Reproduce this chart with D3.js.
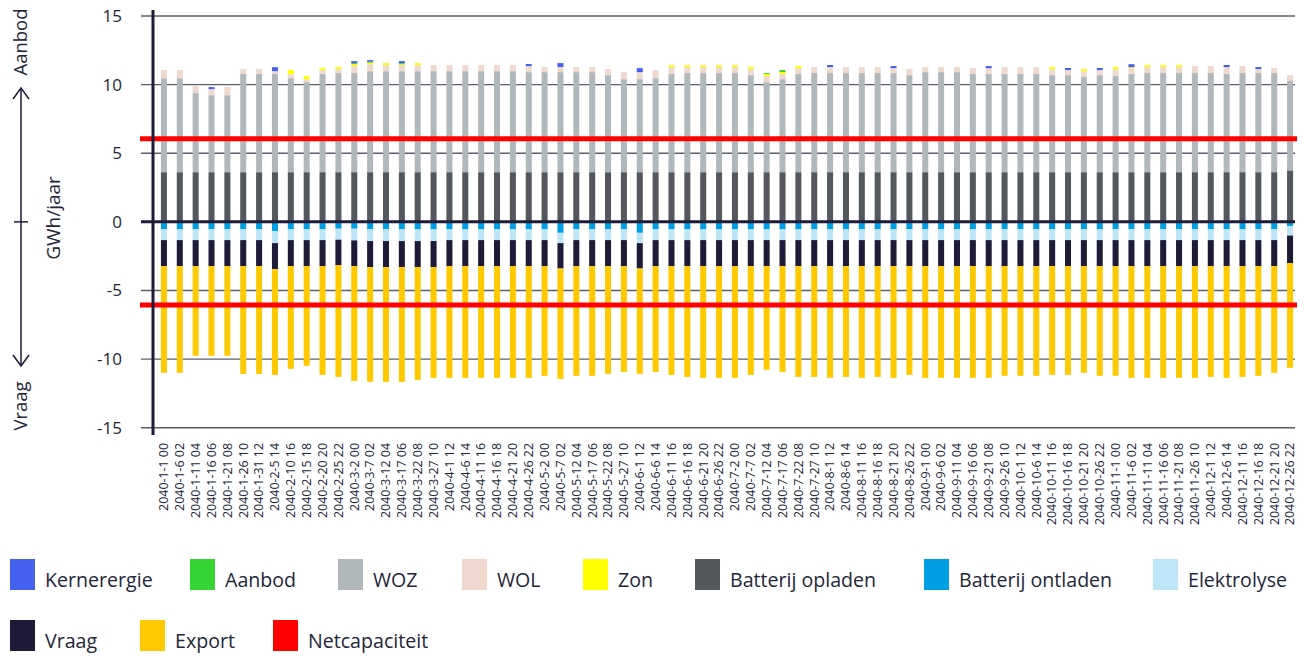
<!DOCTYPE html>
<html><head><meta charset="utf-8">
<script src="https://cdn.jsdelivr.net/npm/d3@7"></script>
<style>body{margin:0;background:#fff}svg{display:block}text{font-family:"Open Sans",sans-serif}</style>
</head><body><svg id="c" width="1304" height="656"></svg>
<script>
const categories = ["2040-1-1 00","2040-1-6 02","2040-1-11 04","2040-1-16 06","2040-1-21 08","2040-1-26 10","2040-1-31 12","2040-2-5 14","2040-2-10 16","2040-2-15 18","2040-2-20 20","2040-2-25 22","2040-3-2 00","2040-3-7 02","2040-3-12 04","2040-3-17 06","2040-3-22 08","2040-3-27 10","2040-4-1 12","2040-4-6 14","2040-4-11 16","2040-4-16 18","2040-4-21 20","2040-4-26 22","2040-5-2 00","2040-5-7 02","2040-5-12 04","2040-5-17 06","2040-5-22 08","2040-5-27 10","2040-6-1 12","2040-6-6 14","2040-6-11 16","2040-6-16 18","2040-6-21 20","2040-6-26 22","2040-7-2 00","2040-7-7 02","2040-7-12 04","2040-7-17 06","2040-7-22 08","2040-7-27 10","2040-8-1 12","2040-8-6 14","2040-8-11 16","2040-8-16 18","2040-8-21 20","2040-8-26 22","2040-9-1 00","2040-9-6 02","2040-9-11 04","2040-9-16 06","2040-9-21 08","2040-9-26 10","2040-10-1 12","2040-10-6 14","2040-10-11 16","2040-10-16 18","2040-10-21 20","2040-10-26 22","2040-11-1 00","2040-11-6 02","2040-11-11 04","2040-11-16 06","2040-11-21 08","2040-11-26 10","2040-12-1 12","2040-12-6 14","2040-12-11 16","2040-12-16 18","2040-12-21 20","2040-12-26 22"];

// supply side (GWh/jaar), stacked upwards
const batterijOpladen = [3.62,3.62,3.62,3.62,3.62,3.62,3.62,3.62,3.62,3.62,3.62,3.62,3.62,3.62,3.62,3.62,3.62,3.62,3.62,3.62,3.62,3.62,3.62,3.62,3.62,3.62,3.62,3.62,3.62,3.62,3.62,3.62,3.62,3.62,3.62,3.62,3.62,3.62,3.62,3.62,3.62,3.62,3.62,3.62,3.62,3.62,3.62,3.62,3.62,3.62,3.62,3.62,3.62,3.62,3.62,3.62,3.62,3.62,3.62,3.62,3.62,3.62,3.62,3.62,3.62,3.62,3.62,3.62,3.62,3.62,3.62,3.75];
const woz = [6.85,6.85,5.76,5.61,5.61,7.15,7.15,7.15,6.85,6.56,7.15,7.22,7.22,7.36,7.36,7.36,7.36,7.36,7.36,7.36,7.36,7.36,7.36,7.29,7.29,7.29,7.29,7.29,7.07,6.78,6.78,6.85,7.15,7.22,7.22,7.22,7.22,7.07,6.56,6.78,7.15,7.22,7.22,7.22,7.22,7.22,7.22,7.07,7.29,7.29,7.29,7.15,7.15,7.15,7.15,7.15,7.07,7.07,6.93,7.07,7.00,7.15,7.22,7.22,7.22,7.22,7.22,7.15,7.22,7.22,7.22,6.51];
const wol = [0.59,0.59,0.51,0.44,0.59,0.36,0.36,0.21,0.30,0.22,0.29,0.29,0.51,0.51,0.44,0.44,0.44,0.44,0.44,0.44,0.44,0.44,0.44,0.44,0.37,0.37,0.37,0.37,0.44,0.51,0.51,0.59,0.51,0.44,0.44,0.44,0.44,0.44,0.44,0.37,0.43,0.44,0.44,0.44,0.44,0.44,0.36,0.44,0.37,0.37,0.37,0.43,0.43,0.51,0.51,0.51,0.44,0.37,0.43,0.37,0.51,0.43,0.44,0.44,0.44,0.51,0.51,0.51,0.51,0.29,0.36,0.43];
const zon = [0,0,0,0,0,0,0,0,0.29,0.22,0.14,0.15,0.14,0.12,0.15,0.07,0.15,0,0,0,0,0,0,0,0,0,0,0,0,0,0,0,0.14,0.14,0.14,0.14,0.14,0.15,0.15,0.15,0.15,0,0,0,0,0,0,0,0,0,0,0,0,0,0,0,0.15,0,0.15,0,0.15,0.07,0.14,0.14,0.14,0,0,0,0,0,0,0];
const aanbod = [0,0,0,0,0,0,0,0,0,0,0,0,0.07,0.05,0,0.07,0,0,0,0,0,0,0,0,0,0,0,0,0,0,0,0,0,0,0,0,0,0,0.07,0.14,0,0,0,0,0,0,0,0,0,0,0,0,0,0,0,0,0,0,0,0,0,0,0,0,0,0,0,0,0,0,0,0];
const kernenergie = [0,0,0,0.15,0,0,0,0.29,0,0,0,0,0.15,0.12,0,0.15,0,0,0,0,0,0,0,0.15,0,0.29,0,0,0,0,0.29,0,0,0,0,0,0,0,0,0,0,0,0.15,0,0,0,0.15,0,0,0,0,0,0.15,0,0,0,0,0.15,0,0.15,0,0.22,0,0,0,0,0,0.15,0,0.15,0,0];

// demand side (GWh/jaar, magnitudes), stacked downwards
const batterijOntladen = [0.55,0.55,0.55,0.55,0.55,0.55,0.55,0.68,0.55,0.55,0.55,0.50,0.50,0.55,0.55,0.55,0.55,0.55,0.55,0.55,0.55,0.55,0.55,0.55,0.55,0.80,0.55,0.55,0.55,0.55,0.80,0.55,0.55,0.55,0.55,0.55,0.55,0.55,0.55,0.55,0.55,0.55,0.55,0.55,0.55,0.55,0.55,0.55,0.55,0.55,0.55,0.55,0.55,0.55,0.55,0.55,0.55,0.55,0.55,0.55,0.55,0.55,0.55,0.55,0.55,0.55,0.55,0.55,0.55,0.55,0.55,0.30];
const elektrolyse = [0.78,0.78,0.78,0.78,0.78,0.78,0.78,0.87,0.78,0.78,0.78,0.80,0.85,0.85,0.85,0.85,0.85,0.85,0.78,0.78,0.78,0.78,0.78,0.78,0.78,0.75,0.78,0.78,0.78,0.78,0.75,0.78,0.78,0.78,0.78,0.78,0.78,0.78,0.78,0.78,0.78,0.78,0.78,0.78,0.78,0.78,0.78,0.78,0.78,0.78,0.78,0.78,0.78,0.78,0.78,0.78,0.78,0.78,0.78,0.78,0.78,0.78,0.78,0.78,0.78,0.78,0.78,0.78,0.78,0.78,0.78,0.70];
const vraag = [1.90,1.90,1.90,1.90,1.90,1.90,1.90,1.90,1.90,1.90,1.90,1.86,1.88,1.90,1.90,1.90,1.90,1.90,1.90,1.90,1.90,1.90,1.90,1.90,1.90,1.85,1.90,1.90,1.90,1.90,1.85,1.90,1.90,1.90,1.90,1.90,1.90,1.90,1.90,1.90,1.90,1.90,1.90,1.90,1.90,1.90,1.90,1.90,1.90,1.90,1.90,1.90,1.90,1.90,1.90,1.90,1.90,1.90,1.90,1.90,1.90,1.90,1.90,1.90,1.90,1.90,1.90,1.90,1.90,1.90,1.90,2.00];
const exportV = [7.77,7.77,6.53,6.53,6.53,7.85,7.85,7.70,7.48,7.26,7.92,8.14,8.36,8.36,8.36,8.36,8.21,8.07,8.14,8.14,8.14,8.14,8.14,8.14,7.99,8.04,7.99,7.99,7.85,7.70,7.68,7.70,7.92,8.07,8.14,8.14,8.14,7.92,7.55,7.70,8.07,8.07,8.14,8.07,8.14,8.07,8.14,7.92,8.14,8.14,8.14,8.14,8.14,7.99,7.99,7.99,7.92,7.92,7.77,7.99,7.99,8.14,8.14,8.14,8.14,8.14,8.07,8.14,8.07,7.99,7.77,7.64];

const netcapaciteit = 6.05;
const yTicks = [-15,-10,-5,0,5,10,15];

const supplySeries = [
  {name:"Batterij opladen", color:"#54575b", values:batterijOpladen},
  {name:"WOZ", color:"#b1b8bc", values:woz},
  {name:"WOL", color:"#efd9cf", values:wol},
  {name:"Zon", color:"#ffff00", values:zon},
  {name:"Aanbod", color:"#33d433", values:aanbod},
  {name:"Kernerergie", color:"#4361ee", values:kernenergie}
];
const demandSeries = [
  {name:"Batterij ontladen", color:"#009fe3", values:batterijOntladen},
  {name:"Elektrolyse", color:"#bde5f8", values:elektrolyse},
  {name:"Vraag", color:"#1e1b38", values:vraag},
  {name:"Export", color:"#ffc900", values:exportV}
];
const legendItems = [
  {name:"Kernerergie", color:"#4361ee"},{name:"Aanbod", color:"#33d433"},{name:"WOZ", color:"#b1b8bc"},
  {name:"WOL", color:"#efd9cf"},{name:"Zon", color:"#ffff00"},{name:"Batterij opladen", color:"#54575b"},
  {name:"Batterij ontladen", color:"#009fe3"},{name:"Elektrolyse", color:"#bde5f8"},
  {name:"Vraag", color:"#1e1b38"},{name:"Export", color:"#ffc900"},{name:"Netcapaciteit", color:"#ff0000"}
];
const legendX = [10,190,338,462,583,695,924,1153,10,140,273];
const legendRow = [0,0,0,0,0,0,0,0,1,1,1];

const svg = d3.select("#c");
const ink = "#1e1b38", txt = "#232639";
const x = d3.scaleBand().domain(categories).range([156,1298]).paddingInner(0.62).paddingOuter(0.31);
const y = d3.scaleLinear().domain([-15,15]).range([427.7,16]);
const gx0 = 141, gx1 = 1295;

// gridlines
svg.append("g").selectAll("line").data(yTicks.filter(d=>d!==0)).join("line")
  .attr("x1",gx0).attr("x2",gx1).attr("y1",d=>y(d)).attr("y2",d=>y(d))
  .attr("stroke","#5c5e6b").attr("stroke-width",1.4);

// bars
function stackRects(series, sign){
  const g = svg.append("g");
  categories.forEach((c,i)=>{
    let acc = 0;
    series.forEach(s=>{
      const v = s.values[i];
      if(!v) return;
      const a = acc, b = acc + v; acc = b;
      const y1 = y(sign*a), y2 = y(sign*b);
      g.append("rect").attr("x",x(c)).attr("width",x.bandwidth())
        .attr("y",Math.min(y1,y2)).attr("height",Math.abs(y2-y1)).attr("fill",s.color);
    });
  });
}
stackRects(supplySeries, 1);
stackRects(demandSeries, -1);

// zero line
svg.append("line").attr("x1",gx0).attr("x2",gx1).attr("y1",y(0)).attr("y2",y(0))
  .attr("stroke",ink).attr("stroke-width",3);

// netcapaciteit
svg.append("g").selectAll("line").data([netcapaciteit,-netcapaciteit]).join("line")
  .attr("x1",140).attr("x2",1297).attr("y1",d=>y(d)).attr("y2",d=>y(d))
  .attr("stroke","#ff0000").attr("stroke-width",5);

// y axis
const yAxis = d3.axisLeft(y).tickValues(yTicks).tickFormat(d=>String(d)).tickSize(0).tickPadding(0);
const ya = svg.append("g").attr("transform","translate(122,0)").call(yAxis);
ya.select(".domain").remove();
ya.selectAll("text").attr("font-size",17).attr("fill",txt).attr("font-family","'Open Sans',sans-serif");
svg.append("line").attr("x1",153).attr("x2",153).attr("y1",10).attr("y2",435)
  .attr("stroke",ink).attr("stroke-width",3);

// x axis labels
const xAxis = d3.axisBottom(x).tickSize(0).tickPadding(0);
const xa = svg.append("g").attr("transform","translate(0,443)").call(xAxis);
xa.select(".domain").remove();
xa.selectAll("text").attr("font-size",12.4).attr("fill",txt).attr("font-family","'Open Sans',sans-serif")
  .attr("text-anchor","end").attr("transform","rotate(-90)").attr("x",0).attr("y",0).attr("dy","0.35em");

// axis title + arrow annotation
svg.append("text").attr("transform","translate(53,218) rotate(-90)").attr("text-anchor","middle")
  .attr("dy","0.35em").attr("font-size",19).attr("fill",txt).text("GWh/jaar");
svg.append("text").attr("transform","translate(21,42) rotate(-90)").attr("text-anchor","middle")
  .attr("dy","0.35em").attr("font-size",18.5).attr("fill",txt).text("Aanbod");
svg.append("text").attr("transform","translate(21,406) rotate(-90)").attr("text-anchor","middle")
  .attr("dy","0.35em").attr("font-size",18.5).attr("fill",txt).text("Vraag");
const arrowG = svg.append("g").attr("stroke",ink).attr("stroke-width",1.5).attr("fill","none");
arrowG.append("line").attr("x1",21).attr("x2",21).attr("y1",88).attr("y2",366);
arrowG.append("path").attr("d","M13,99 L21,88 L29,99");
arrowG.append("path").attr("d","M13,355 L21,366 L29,355");
arrowG.append("line").attr("x1",14).attr("x2",28).attr("y1",y(0)).attr("y2",y(0));

// legend
const lg = svg.append("g").selectAll("g").data(legendItems).join("g")
  .attr("transform",(d,i)=>`translate(${legendX[i]},${559+legendRow[i]*61})`);
lg.append("rect").attr("width",25).attr("height",31).attr("fill",d=>d.color);
lg.append("text").attr("x",35).attr("y",28).attr("font-size",19.6).attr("fill",txt).text(d=>d.name);
</script></body></html>
